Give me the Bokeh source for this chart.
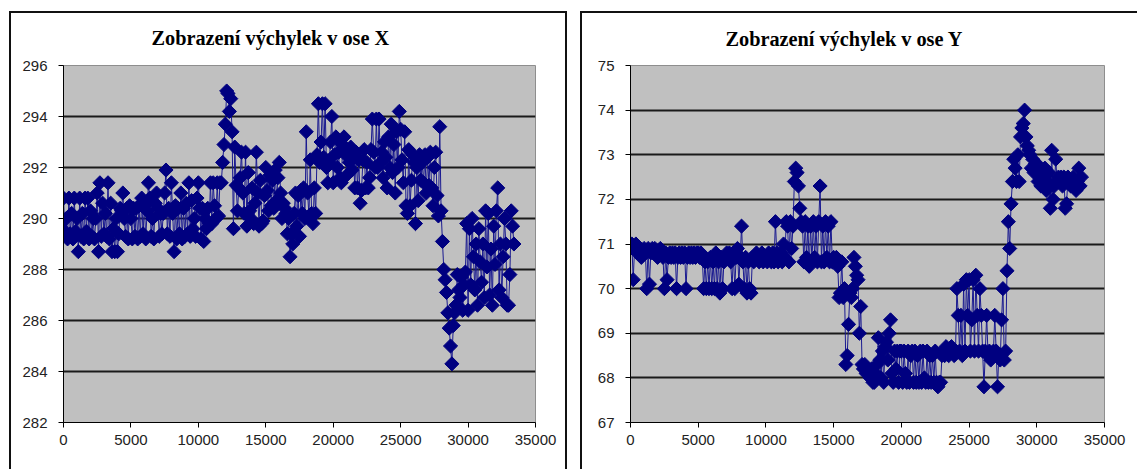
from bokeh.plotting import figure
from bokeh.layouts import row
from bokeh.models import FixedTicker, Range1d
from bokeh.embed import file_html
from bokeh.resources import INLINE

title_x = "Zobrazení výchylek v ose X"
title_y = "Zobrazení výchylek v ose Y"
x_ticks = [0, 5000, 10000, 15000, 20000, 25000, 30000, 35000]
yx_ticks = [282, 284, 286, 288, 290, 292, 294, 296]
yy_ticks = [67, 68, 69, 70, 71, 72, 73, 74, 75]
sample_step = 100

dev_x = [
290.8,289.5,290.0,289.2,290.8,289.4,290.2,289.2,290.8,289.5,
290.0,288.7,290.8,289.3,290.2,289.2,290.8,289.5,290.8,289.2,
290.3,289.3,290.0,289.2,290.0,291.0,288.7,291.4,289.3,290.6,
289.4,290.2,289.3,291.4,289.2,290.6,288.7,289.6,288.7,290.0,
288.7,289.4,290.4,290.3,291.0,290.0,289.3,290.4,289.2,290.5,
290.0,289.2,290.4,289.3,290.4,289.2,290.5,289.3,290.8,289.4,
290.5,289.2,290.3,291.4,290.8,289.3,290.0,289.2,290.6,291.0,
290.4,289.3,290.2,289.4,290.2,291.0,291.9,289.4,290.4,289.3,
291.4,290.2,288.7,290.5,289.2,290.4,289.4,291.0,289.2,290.4,
289.3,290.6,289.4,291.4,289.3,290.7,289.6,290.0,289.3,290.8,
291.4,290.4,289.2,290.4,289.1,290.0,289.6,290.4,289.8,291.4,
289.8,291.4,290.5,290.0,291.4,290.1,291.4,291.4,292.2,292.9,
293.7,295.0,294.9,294.2,294.7,293.4,289.6,292.8,291.3,290.3,
291.2,291.6,292.6,291.0,290.2,292.6,289.7,291.8,290.3,290.0,
291.2,289.8,290.6,292.6,291.0,289.7,291.5,289.8,289.9,290.9,
292.0,291.1,290.3,291.7,290.5,291.5,290.4,291.9,290.7,291.6,
292.2,291.0,290.0,290.6,290.4,290.2,289.4,290.0,288.5,289.4,
289.0,290.2,291.0,289.7,290.9,289.3,291.1,290.2,291.2,290.0,
293.4,291.0,290.1,292.3,290.2,289.8,291.2,290.2,292.5,294.5,
292.2,293.0,294.5,292.4,294.5,292.0,291.4,292.2,293.0,294.0,
291.4,292.5,293.2,292.0,292.6,291.6,291.4,292.9,293.2,292.5,
291.7,292.5,292.2,292.8,291.9,292.5,291.2,292.6,291.2,292.3,
290.6,291.1,292.3,292.7,291.2,292.2,291.2,291.6,292.7,293.9,
292.6,292.0,293.9,292.0,293.9,292.2,292.6,291.6,293.0,292.4,
291.2,293.2,292.0,293.7,291.8,292.9,291.0,293.4,292.0,294.2,
293.5,292.3,291.4,293.4,290.5,290.2,292.7,290.5,291.5,292.5,
292.2,289.8,292.0,290.7,292.5,291.5,292.2,291.4,292.5,291.0,
292.4,291.3,292.6,291.2,290.5,292.0,292.6,290.9,290.1,293.6,
290.3,289.1,288.0,287.6,287.1,286.3,285.7,285.0,284.3,285.8,
286.3,286.6,287.8,287.2,286.9,287.7,286.4,287.4,287.9,289.8,
286.4,289.6,287.4,290.0,288.5,287.2,289.0,286.6,289.6,288.3,
287.5,289.0,286.9,290.3,288.1,290.2,287.0,288.8,286.6,289.7,
288.2,290.3,291.2,287.2,289.0,286.9,288.5,290.0,289.0,286.6,
286.6,287.8,290.3,289.7,289.0,
]

dev_y = [
70.9,71.0,70.2,70.9,71.0,70.8,70.9,70.8,70.7,70.8,
70.9,70.8,70.0,70.9,70.1,70.8,70.9,70.8,70.9,70.8,
70.7,70.8,70.9,70.8,70.7,70.0,70.8,70.2,70.7,70.8,
70.7,70.8,70.7,70.8,70.0,70.7,70.8,70.7,70.8,70.7,
70.8,70.0,70.7,70.8,70.7,70.8,70.7,70.8,70.7,70.8,
70.8,70.7,70.8,70.7,70.0,70.6,70.0,70.6,70.0,70.7,
70.0,70.6,70.0,70.8,70.0,70.6,69.9,70.7,70.0,70.6,
70.7,70.8,70.7,70.8,70.6,70.0,70.8,70.0,70.7,70.9,
70.1,70.7,71.4,70.6,70.0,70.7,69.9,70.6,70.0,69.9,
70.7,70.6,70.7,70.8,70.7,70.6,70.7,70.8,70.6,70.7,
70.7,70.6,70.8,70.7,70.6,70.8,70.6,71.5,70.8,70.6,
70.7,70.8,70.6,71.0,70.7,71.5,71.4,70.6,71.5,70.9,
71.4,72.4,72.7,72.6,72.3,71.8,71.5,71.4,70.6,71.5,
70.7,71.4,70.5,71.4,70.6,71.5,70.7,71.4,70.6,71.5,
72.3,70.6,71.4,70.6,71.5,70.7,71.4,70.6,71.5,70.6,
70.7,70.6,70.7,70.5,69.8,69.9,70.6,69.8,70.0,68.3,
68.5,69.2,69.9,69.8,70.0,70.7,70.5,70.3,70.2,69.0,
69.6,68.3,68.2,68.3,68.1,68.2,68.1,68.0,68.2,67.9,
67.9,68.1,68.3,68.9,68.4,68.0,68.6,67.9,68.7,68.8,
68.4,69.0,69.3,68.1,67.9,68.6,68.2,68.6,67.9,68.6,
68.6,67.9,68.6,68.1,67.9,68.6,67.9,68.5,68.6,67.9,
68.6,67.9,68.5,67.9,68.6,67.9,68.6,68.0,67.9,68.6,
67.9,68.5,67.9,68.5,67.9,68.6,67.9,67.8,67.9,67.9,
68.5,68.6,68.5,68.7,68.6,68.5,68.6,68.7,68.6,68.5,
68.6,70.0,69.4,68.6,69.4,68.5,70.1,68.6,70.2,69.4,
70.2,68.6,69.3,70.2,68.6,70.3,69.4,68.6,70.0,69.4,
68.6,67.8,68.6,69.4,68.5,68.6,68.4,68.5,68.6,69.4,
68.6,67.8,68.5,68.4,69.3,70.0,68.4,68.6,70.4,71.5,
70.9,71.9,72.4,72.9,72.7,72.4,73.0,72.4,73.4,73.6,
73.7,74.0,73.4,73.2,73.1,73.0,72.7,72.9,72.6,72.8,
72.8,72.4,72.7,72.3,72.6,72.5,72.7,72.2,72.4,72.6,
71.8,73.1,72.0,72.3,72.9,72.4,72.5,72.4,72.5,72.3,
72.5,71.8,71.9,72.5,72.4,72.3,72.3,72.5,72.4,72.2,
72.4,72.7,72.3,72.5,
]
xs_x = [i * sample_step for i in range(len(dev_x))]
xs_y = [i * sample_step for i in range(len(dev_y))]


def panel(title, xs, ys, y_lo, y_hi, y_ticks, w, h, ml, mr, mt, mb, offset, standoff, margin, shadow):
    p = figure(width=w, height=h, output_backend="svg", toolbar_location=None,
               x_range=Range1d(0, 35000), y_range=Range1d(y_lo, y_hi),
               min_border_left=ml, min_border_right=mr, min_border_top=mt, min_border_bottom=mb,
               title=title, tools="", margin=margin, styles={"box-shadow": shadow})
    p.border_fill_color = None
    p.title.align = "left"
    p.title.offset = offset
    p.title.vertical_align = "top"
    p.title.text_font = "Liberation Serif"
    p.title.text_font_style = "bold"
    p.title.text_font_size = "20.3px"
    p.title.text_color = "#000000"
    p.title.standoff = standoff
    p.background_fill_color = "#C0C0C0"
    p.outline_line_color = "#8E8E8E"
    p.outline_line_width = 1
    p.xgrid.visible = False
    p.ygrid.grid_line_color = "#1a1a1a"
    p.ygrid.grid_line_width = 2
    p.xaxis.ticker = FixedTicker(ticks=x_ticks)
    p.yaxis.ticker = FixedTicker(ticks=y_ticks)
    for ax in (p.xaxis[0], p.yaxis[0]):
        ax.major_label_text_font = "Liberation Sans"
        ax.major_label_text_font_size = "15px"
        ax.major_label_text_color = "#222222"
        ax.axis_line_color = "#000000"
        ax.major_tick_line_color = "#000000"
        ax.axis_line_width = 1
        ax.major_tick_out = 5
        ax.major_tick_in = 0
        ax.minor_tick_line_color = None
    p.xaxis.major_label_standoff = 7
    p.yaxis.major_label_standoff = 11
    p.xaxis[0].formatter.use_scientific = False
    p.line(xs, ys, line_color="#1a1a90", line_width=1)
    p.scatter(xs, ys, marker="square", angle=0.7854, size=10, fill_color="#000080", line_color="#000080")
    return p


left = panel(title_x, xs_x, dev_x, 282, 296, yx_ticks, 558, 458, 54, 32, 54, 47, 88, 29,
             (11, 0, 0, 9), "inset 2px 2px 0 0 #111111, inset -2px 0 0 0 #111111")
right = panel(title_y, xs_y, dev_y, 67, 75, yy_ticks, 557, 458, 50, 33, 52, 47, 95, 27,
              (11, 0, 0, 13), "inset 2px 2px 0 0 #111111")
page = row(left, right, spacing=0)
open("out.html", "w").write(file_html(page, INLINE))
